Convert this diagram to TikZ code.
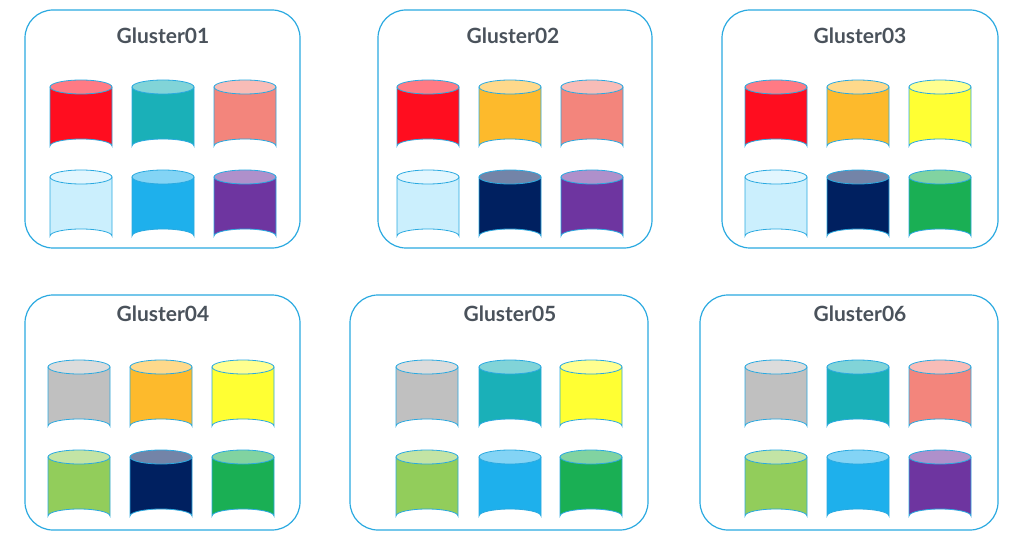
\documentclass[tikz,border=0pt]{standalone}
\usepackage{fontspec}
\setmainfont{Lato}
\definecolor{frame}{HTML}{2AA9E0}
\definecolor{ttl}{HTML}{4A525B}
\definecolor{cred}{HTML}{FF0D1F}
\definecolor{cteal}{HTML}{1AB0B8}
\definecolor{csal}{HTML}{F3857C}
\definecolor{clb}{HTML}{CBEFFD}
\definecolor{cblue}{HTML}{1EB0EC}
\definecolor{cpur}{HTML}{6E35A0}
\definecolor{corg}{HTML}{FDBA2C}
\definecolor{cyel}{HTML}{FFFF33}
\definecolor{cnavy}{HTML}{002060}
\definecolor{cgrn}{HTML}{1AAF54}
\definecolor{cgry}{HTML}{C0C0C0}
\definecolor{clime}{HTML}{92CD5B}
\tikzset{
  clusterbox/.style={draw=frame, line width=1.2pt, rounded corners=28pt},
  title/.style={text=ttl, font=\bfseries\fontsize{21}{24}\selectfont},
}
% cylinder: centre x, top y, colour
\newcommand{\db}[3]{%
  \fill[#3, draw=frame, line width=0.8pt] (#1-31,#2) -- (#1-31,#2+59) arc[start angle=180, end angle=360, x radius=31, y radius=7] -- (#1+31,#2) -- cycle;
  \filldraw[fill=#3!55!white, draw=frame, line width=0.8pt] (#1,#2) ellipse[x radius=31, y radius=7];
}
\begin{document}
\begin{tikzpicture}[x=1pt,y=-1pt]
  \useasboundingbox (0,0) rectangle (1024,545);
  % boxes
  \draw[clusterbox] (25,10) rectangle (300,248);
  \draw[clusterbox] (378,10) rectangle (652,248);
  \draw[clusterbox] (722,10) rectangle (998,248);
  \draw[clusterbox] (25,295) rectangle (300,530);
  \draw[clusterbox] (350,295) rectangle (648,530);
  \draw[clusterbox] (700,295) rectangle (998,530);
  \node[title] (g1) at (163,36) {Gluster01};
  \node[title] (g2) at (513,36) {Gluster02};
  \node[title] (g3) at (860,36) {Gluster03};
  \node[title] (g4) at (163,314) {Gluster04};
  \node[title] (g5) at (510,314) {Gluster05};
  \node[title] (g6) at (860,314) {Gluster06};
  % Gluster01
  \db{81}{87}{cred} \db{163}{87}{cteal} \db{245}{87}{csal}
  \db{81}{177}{clb} \db{163}{177}{cblue} \db{245}{177}{cpur}
  % Gluster02
  \db{428}{87}{cred} \db{510}{87}{corg} \db{592}{87}{csal}
  \db{428}{177}{clb} \db{510}{177}{cnavy} \db{592}{177}{cpur}
  % Gluster03
  \db{776}{87}{cred} \db{858}{87}{corg} \db{940}{87}{cyel}
  \db{776}{177}{clb} \db{858}{177}{cnavy} \db{940}{177}{cgrn}
  % Gluster04
  \db{79}{367}{cgry} \db{161}{367}{corg} \db{243}{367}{cyel}
  \db{79}{457}{clime} \db{161}{457}{cnavy} \db{243}{457}{cgrn}
  % Gluster05
  \db{427}{367}{cgry} \db{510}{367}{cteal} \db{591}{367}{cyel}
  \db{427}{457}{clime} \db{510}{457}{cblue} \db{591}{457}{cgrn}
  % Gluster06
  \db{776}{367}{cgry} \db{858}{367}{cteal} \db{940}{367}{csal}
  \db{776}{457}{clime} \db{858}{457}{cblue} \db{940}{457}{cpur}
\end{tikzpicture}
\end{document}
